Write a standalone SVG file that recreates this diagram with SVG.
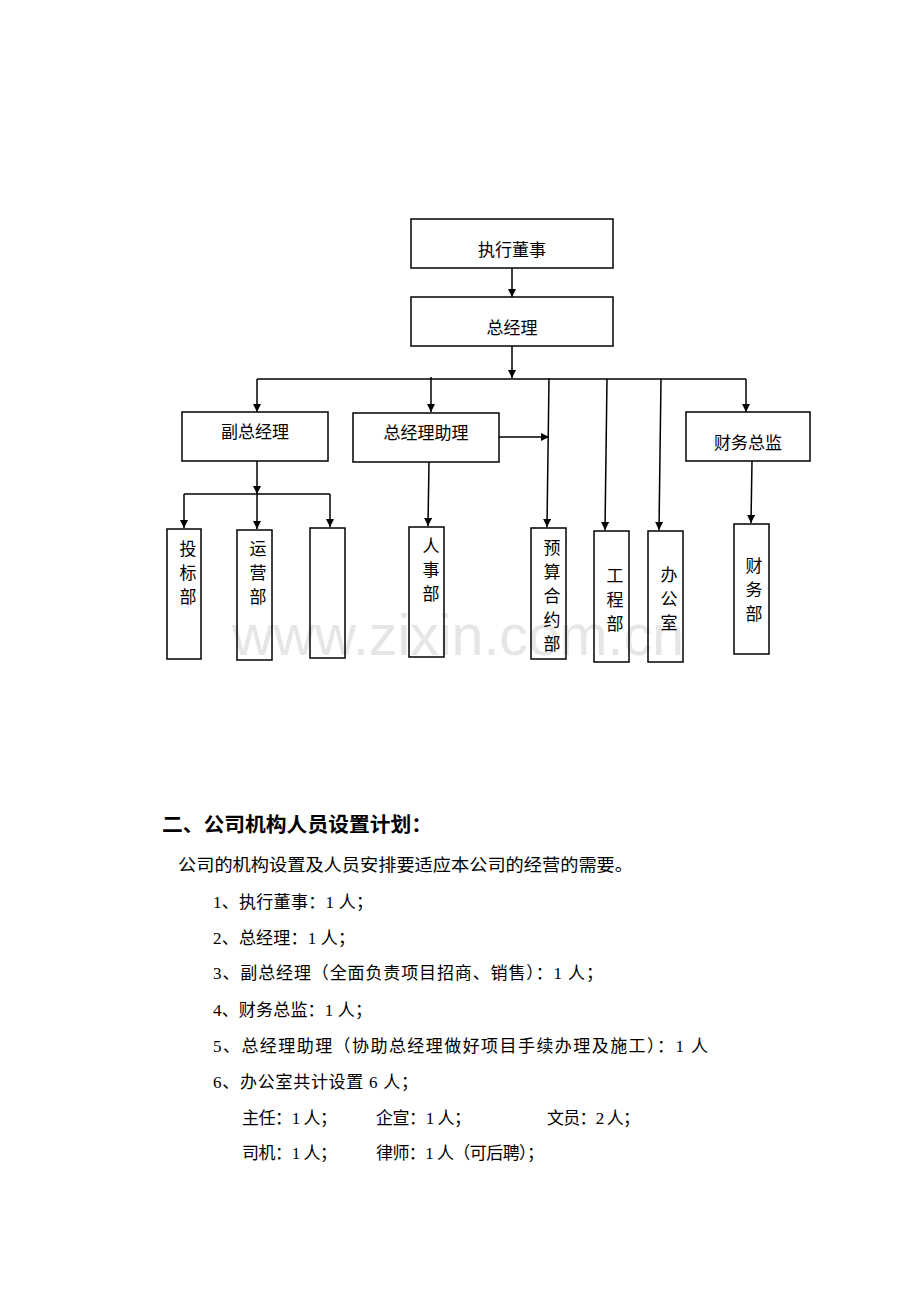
<svg xmlns="http://www.w3.org/2000/svg" width="920" height="1302" viewBox="0 0 920 1302">
<defs>
<marker id="ah" viewBox="0 0 10 10" refX="10" refY="5" markerWidth="8" markerHeight="8" markerUnits="userSpaceOnUse" orient="auto"><path d="M0,0 L10,5 L0,10 Z" fill="#000"/></marker>
<style>
.box{fill:none;stroke:#000;stroke-width:1.5}
.lbl{font-family:"Liberation Serif","Noto Sans CJK SC",serif;font-size:17px;fill:#000;text-anchor:middle}
.con{fill:none;stroke:#000;stroke-width:1.5}
.arr{fill:none;stroke:#000;stroke-width:1.5;marker-end:url(#ah)}
.body{font-family:"Liberation Serif","Noto Sans CJK SC",serif;font-size:17px;fill:#000}
</style>
</defs>
<rect width="920" height="1302" fill="#fff"/>
<text x="458" y="655" text-anchor="middle" font-family="Liberation Sans, Arial, sans-serif" font-size="58" fill="#e6e6e6" textLength="452" lengthAdjust="spacingAndGlyphs">www.zixin.com.cn</text>

<g id="connectors">
<path class="arr" d="M512,268 L512,297"/>
<path class="arr" d="M512,346 L512,378"/>
<path class="con" d="M257,379 L746,379"/>
<path class="arr" d="M257,379 L257,412"/>
<path class="arr" d="M431,377 L431,412"/>
<path class="arr" d="M746,379 L746,412"/>
<path class="arr" d="M549,378 L547,527"/>
<path class="arr" d="M607,379 L605,530"/>
<path class="arr" d="M661,379 L659,530"/>
<path class="arr" d="M499,437 L549,437"/>
<path class="arr" d="M257,461 L257,494"/>
<path class="con" d="M184,494 L330,494"/>
<path class="arr" d="M184,494 L184,528"/>
<path class="arr" d="M257,494 L257,529"/>
<path class="arr" d="M330,494 L330,527"/>
<path class="arr" d="M429,462 L428,526"/>
<path class="arr" d="M752,461 L751,523"/>
</g>

<g id="n-zhixingdongshi"><rect class="box" x="411" y="219" width="202" height="49"/><text class="lbl" x="512" y="256">执行董事</text></g>
<g id="n-zongjingli"><rect class="box" x="411" y="297" width="202" height="49"/><text class="lbl" x="512" y="334">总经理</text></g>
<g id="n-fuzongjingli"><rect class="box" x="182" y="412" width="146" height="49"/><text class="lbl" x="255" y="438">副总经理</text></g>
<g id="n-zongjinglizhuli"><rect class="box" x="353" y="413" width="146" height="49"/><text class="lbl" x="426" y="439">总经理助理</text></g>
<g id="n-caiwuzongjian"><rect class="box" x="686" y="412" width="124" height="49"/><text class="lbl" x="748" y="449">财务总监</text></g>

<g id="n-toubiaobu"><rect class="box" x="167" y="529" width="34" height="130"/><text class="lbl" x="188" y="555">投</text><text class="lbl" x="188" y="579">标</text><text class="lbl" x="188" y="603">部</text></g>
<g id="n-yunyingbu"><rect class="box" x="237" y="530" width="35" height="130"/><text class="lbl" x="258" y="555">运</text><text class="lbl" x="258" y="579">营</text><text class="lbl" x="258" y="603">部</text></g>
<g id="n-blank"><rect class="box" x="310" y="528" width="35" height="130"/></g>
<g id="n-renshibu"><rect class="box" x="409" y="527" width="35" height="130"/><text class="lbl" x="431" y="552">人</text><text class="lbl" x="431" y="576">事</text><text class="lbl" x="431" y="600">部</text></g>
<g id="n-yusuanheyuebu"><rect class="box" x="531" y="528" width="35" height="131"/><text class="lbl" x="552" y="554">预</text><text class="lbl" x="552" y="578">算</text><text class="lbl" x="552" y="602">合</text><text class="lbl" x="552" y="626">约</text><text class="lbl" x="552" y="650">部</text></g>
<g id="n-gongchengbu"><rect class="box" x="594" y="531" width="35" height="131"/><text class="lbl" x="615" y="582">工</text><text class="lbl" x="615" y="606">程</text><text class="lbl" x="615" y="630">部</text></g>
<g id="n-bangongshi"><rect class="box" x="648" y="531" width="35" height="131"/><text class="lbl" x="669" y="581">办</text><text class="lbl" x="669" y="605">公</text><text class="lbl" x="669" y="629">室</text></g>
<g id="n-caiwubu"><rect class="box" x="734" y="524" width="35" height="130"/><text class="lbl" x="754" y="572">财</text><text class="lbl" x="754" y="596">务</text><text class="lbl" x="754" y="620">部</text></g>

<g id="text-body">
<text x="162" y="832" font-family="Liberation Serif, Noto Sans CJK SC, serif" font-size="20" font-weight="bold" textLength="270" lengthAdjust="spacingAndGlyphs">二、公司机构人员设置计划：</text>
<text class="body" x="178" y="871" textLength="455" lengthAdjust="spacingAndGlyphs">公司的机构设置及人员安排要适应本公司的经营的需要。</text>
<text class="body" x="213" y="908" textLength="160" lengthAdjust="spacing">1、执行董事：1 人；</text>
<text class="body" x="213" y="944" textLength="142" lengthAdjust="spacing">2、总经理：1 人；</text>
<text class="body" x="213" y="979" textLength="390" lengthAdjust="spacing">3、副总经理（全面负责项目招商、销售）：1 人；</text>
<text class="body" x="213" y="1016" textLength="159" lengthAdjust="spacing">4、财务总监：1 人；</text>
<text class="body" x="213" y="1052" textLength="495" lengthAdjust="spacing">5、总经理助理（协助总经理做好项目手续办理及施工）：1 人</text>
<text class="body" x="213" y="1088" textLength="205" lengthAdjust="spacing">6、办公室共计设置 6 人；</text>
<text class="body" x="242" y="1124" textLength="95" lengthAdjust="spacing">主任：1 人；</text>
<text class="body" x="376" y="1124" textLength="95" lengthAdjust="spacing">企宣：1 人；</text>
<text class="body" x="547" y="1124" textLength="93" lengthAdjust="spacing">文员：2 人；</text>
<text class="body" x="242" y="1159" textLength="95" lengthAdjust="spacing">司机：1 人；</text>
<text class="body" x="376" y="1159" textLength="168" lengthAdjust="spacing">律师：1 人（可后聘）；</text>
</g>
</svg>
